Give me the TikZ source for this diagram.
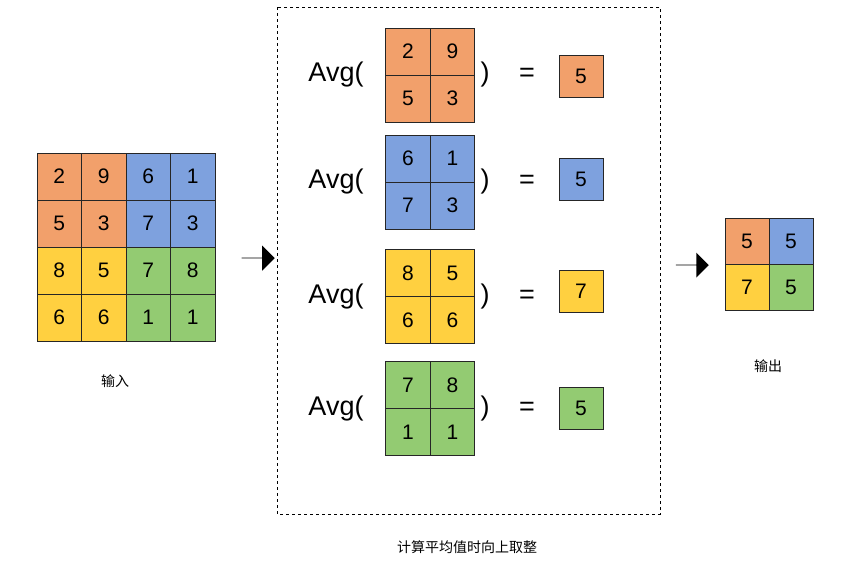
\documentclass[tikz,border=0pt]{standalone}
\usepackage{fontspec}
\setmainfont{Liberation Sans}
\newfontfamily\cjk{Noto Sans CJK SC}
\usetikzlibrary{shapes.arrows}
\definecolor{cor}{HTML}{F2A06B}
\definecolor{cbl}{HTML}{7EA1DE}
\definecolor{cye}{HTML}{FFD040}
\definecolor{cgr}{HTML}{93CB72}
\tikzset{cell/.style={draw=black!85,line width=0.9pt,minimum width=44.5,minimum height=47,inner sep=0,font=\fontsize{21}{21}\selectfont},
 rbox/.style={cell,minimum width=44,minimum height=42},
 avg/.style={font=\fontsize{27}{27}\selectfont,inner sep=0},
 blk/.style={single arrow,fill=black,draw=none,minimum width=25,minimum height=33,single arrow head extend=5,inner sep=0},
 lab/.style={font=\cjk\fontsize{14}{14}\selectfont}}
\begin{document}
\begin{tikzpicture}[x=1pt,y=-1pt]
\useasboundingbox (0,0) rectangle (853,571);
% input grid
\foreach \r/\row in {0/{2,9,6,1},1/{5,3,7,3},2/{8,5,7,8},3/{6,6,1,1}}{
 \foreach \v [count=\c from 0] in \row {
  \pgfmathsetmacro\col{\r<2 ? (\c<2 ? 1 : 2) : (\c<2 ? 3 : 4)}
  \ifcase\numexpr\col\relax\or\def\cc{cor}\or\def\cc{cbl}\or\def\cc{cye}\or\def\cc{cgr}\fi
  \node[cell,fill=\cc] (in\r\c) at (59.25+44.5*\c,176.5+47*\r) {\v};
 }}
\node[lab] (inlab) at (115,381) {输入};
\node[blk] (a1) at (258,258) {};
\draw[dashed,line width=0.8pt] (277,7) rectangle (660,514);
\node[lab] (cap) at (467,547) {计算平均值时向上取整};
% avg rows
\foreach \k/\cc/\a/\b/\c/\d/\res/\y/\ry in {1/cor/2/9/5/3/5/75/76,2/cbl/6/1/7/3/5/182/179.5,3/cye/8/5/6/6/7/296.5/291.5,4/cgr/7/8/1/1/5/408.5/408}{
 \node[cell,fill=\cc] (g\k a) at (408,\y-23.5) {\a};
 \node[cell,fill=\cc] (g\k b) at (452.5,\y-23.5) {\b};
 \node[cell,fill=\cc] (g\k c) at (408,\y+23.5) {\c};
 \node[cell,fill=\cc] (g\k d) at (452.5,\y+23.5) {\d};
 \node[avg] (avg\k) at (336,\y) {Avg(};
 \node[avg] (cl\k) at (485,\y) {)};
 \node[avg] (eq\k) at (527,\y) {=};
 \node[rbox,fill=\cc] (r\k) at (581,\ry) {\res};
}
\node[blk] (a2) at (692,265) {};
% output
\node[cell,fill=cor,minimum width=44,minimum height=46] (o1) at (747,241) {5};
\node[cell,fill=cbl,minimum width=44,minimum height=46] (o2) at (791,241) {5};
\node[cell,fill=cye,minimum width=44,minimum height=46] (o3) at (747,287) {7};
\node[cell,fill=cgr,minimum width=44,minimum height=46] (o4) at (791,287) {5};
\node[lab] (outlab) at (768,366) {输出};
\end{tikzpicture}
\end{document}
